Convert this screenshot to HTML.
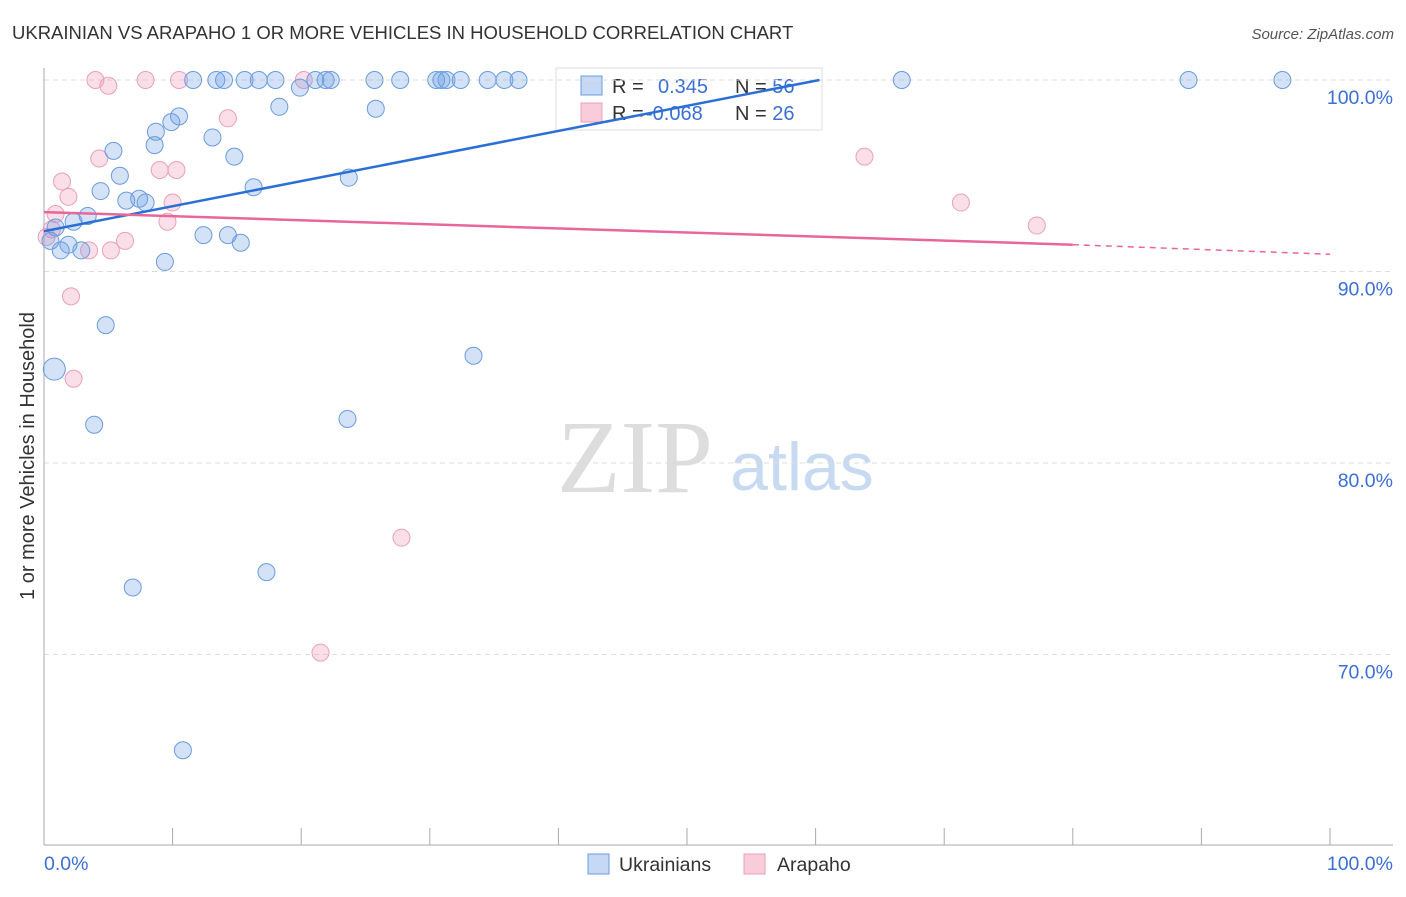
<!DOCTYPE html>
<html><head><meta charset="utf-8"><style>
body{margin:0;background:#fff;font-family:"Liberation Sans",sans-serif}
svg text{font-family:"Liberation Sans",sans-serif}
</style></head><body>
<svg id="chart" width="1406" height="892">
<text x="12" y="39" font-size="18.5" fill="#333">UKRAINIAN VS ARAPAHO 1 OR MORE VEHICLES IN HOUSEHOLD CORRELATION CHART</text>
<text x="1394" y="39" font-size="15" fill="#555" font-style="italic" text-anchor="end">Source: ZipAtlas.com</text>
<text x="635" y="492" font-size="104" fill="#ddd" style="font-family:'Liberation Serif',serif" text-anchor="middle">ZIP</text>
<text x="802" y="490" font-size="68" fill="#c8d9f2" text-anchor="middle">atlas</text>
<g>
<rect x="556" y="68" width="266" height="62" fill="#fff" stroke="#ddd"/>
<rect x="581" y="76" width="21" height="19" fill="#c5d9f5" stroke="#6a9be0"/>
<text x="612" y="93" font-size="20" fill="#333">R = <tspan fill="#3b6fd4" x="658">0.345</tspan><tspan x="735">N = </tspan><tspan fill="#3b6fd4">56</tspan></text>
<rect x="581" y="103" width="21" height="19" fill="#f8cdd9" stroke="#eaa0b8"/>
<text x="612" y="120" font-size="20" fill="#333">R = <tspan fill="#3b6fd4" x="646">-0.068</tspan><tspan x="735">N = </tspan><tspan fill="#3b6fd4">26</tspan></text>
</g>
<g id="grid"></g><g id="axes"></g><g id="marks"></g>
<text transform="translate(34,456) rotate(-90)" font-size="20" fill="#333" text-anchor="middle">1 or more Vehicles in Household</text>
<text x="44" y="870" font-size="19.5" fill="#3b6fd4">0.0%</text>
<text x="1393" y="870" font-size="19.5" fill="#3b6fd4" text-anchor="end">100.0%</text>
<g>
<rect x="588" y="854" width="21" height="20" fill="#c5d9f5" stroke="#6a9be0"/>
<text x="619" y="871" font-size="19.5" fill="#333">Ukrainians</text>
<rect x="744" y="854" width="21" height="20" fill="#f8cdd9" stroke="#eaa0b8"/>
<text x="777" y="871" font-size="19.5" fill="#333">Arapaho</text>
</g>
</svg>
<script>
const yTicks=[100,90,80,70];
const yTickLabels=["100.0%","90.0%","80.0%","70.0%"];
const xTicks=[0,10,20,30,40,50,60,70,80,90,100];
const blueX=[11.6,13.4,14.0,15.6,16.7,18.0,19.9,21.1,21.9,22.3,25.7,27.7,30.5,30.9,31.3,32.4,34.5,35.8,36.9,66.7,89.0,96.3,18.3,25.8,10.5,9.9,8.7,13.1,8.6,5.4,14.8,5.9,23.7,4.4,16.3,6.4,7.4,7.9,3.4,2.3,0.9,0.5,1.9,1.3,2.9,15.3,12.4,14.3,9.4,4.8,0.8,33.4,3.9,23.6,17.3,6.9,10.8];
const blueY=[100,100,100,100,100,100,99.6,100,100,100,100,100,100,100,100,100,100,100,100,100,100,100,98.6,98.5,98.1,97.8,97.3,97.0,96.6,96.3,96.0,95.0,94.9,94.2,94.4,93.7,93.8,93.6,92.9,92.6,92.3,91.6,91.4,91.1,91.1,91.5,91.9,91.9,90.5,87.2,84.9,85.6,82.0,82.3,74.3,73.5,65.0];
const pinkX=[4.0,5.0,7.9,10.5,20.2,14.3,4.3,1.4,1.9,9.0,10.3,10.0,9.6,0.9,0.6,0.2,3.5,5.2,6.3,2.1,2.3,27.8,21.5,63.8,71.3,77.2];
const pinkY=[100,99.7,100,100,100,98.0,95.9,94.7,93.9,95.3,95.3,93.6,92.6,93.0,92.2,91.8,91.1,91.1,91.6,88.7,84.4,76.1,70.1,96.0,93.6,92.4];
const blueFitX=[0,60.3];const blueFitY=[92.1,100];
const pinkFitX=[0,80,100];const pinkFitY=[93.1,91.4,90.9];
const X=v=>44+v*12.86, Y=v=>80+(100-v)*19.15;
const NS="http://www.w3.org/2000/svg";
function mk(p,t,a){const e=document.createElementNS(NS,t);for(const k in a)e.setAttribute(k,a[k]);p.appendChild(e);return e;}
const grid=document.getElementById('grid'),axes=document.getElementById('axes'),marks=document.getElementById('marks');
yTicks.forEach((t,i)=>{
 const l=mk(grid,'line',{x1:44,x2:1393,y1:Y(t),y2:Y(t),stroke:'#ddd','stroke-dasharray':'5,4'});
 
 
 const tx=mk(grid,'text',{x:1393,y:Y(t)+24,'font-size':19.5,fill:'#3b6fd4','text-anchor':'end'});tx.textContent=yTickLabels[i];
 
 
});
const ya=mk(axes,'line',{x1:44,x2:44,y1:68,y2:845,stroke:'#aaa'});


const xa=mk(axes,'line',{x1:44,x2:1393,y1:845,y2:845,stroke:'#aaa'});


xTicks.forEach(t=>{const k=mk(axes,'line',{x1:X(t),x2:X(t),y1:828,y2:845,stroke:'#aaa'});
 
 });
function pts(xs,ys,fill,stroke,name){xs.forEach((x,i)=>{const r=(name==='ukrainian-point'&&ys[i]===84.9)?11:8.5;
 const c=mk(marks,'circle',{cx:X(x),cy:Y(ys[i]),r:r,fill:fill,stroke:stroke,'stroke-width':1});
 
 });}
pts(pinkX,pinkY,'rgba(240,150,180,0.3)','#eaa0b8','arapaho-point');
pts(blueX,blueY,'rgba(110,160,230,0.3)','#6a9be0','ukrainian-point');
const bl=mk(marks,'line',{x1:X(blueFitX[0]),y1:Y(blueFitY[0]),x2:X(blueFitX[1]),y2:Y(blueFitY[1]),stroke:'#2a6fd6','stroke-width':2.5});


const pl=mk(marks,'line',{x1:X(pinkFitX[0]),y1:Y(pinkFitY[0]),x2:X(pinkFitX[1]),y2:Y(pinkFitY[1]),stroke:'#e8679a','stroke-width':2.5});


const pd=mk(marks,'line',{x1:X(pinkFitX[1]),y1:Y(pinkFitY[1]),x2:X(pinkFitX[2]),y2:Y(pinkFitY[2]),stroke:'#e8679a','stroke-width':1.5,'stroke-dasharray':'6,5'});


</script>
</body></html>
